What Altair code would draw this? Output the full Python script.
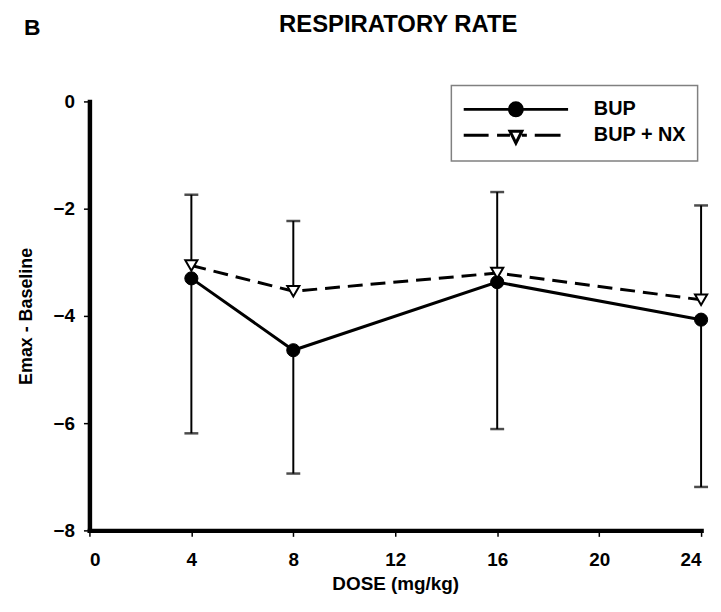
import altair as alt
import pandas as pd

# ---- data ----
dose = [4, 8, 16, 24]
bup_mean = [-3.30, -4.64, -3.37, -4.07]
bup_lower = [-6.19, -6.94, -6.11, -7.19]
bupnx_mean = [-3.06, -3.54, -3.20, -3.70]
bupnx_upper = [-1.74, -2.23, -1.69, -1.94]
series_names = ["BUP", "BUP + NX"]
x_ticks = [0, 4, 8, 12, 16, 20, 24]
y_ticks = [-8, -6, -4, -2, 0]
panel_label = ["B"]

rows = []
for d, m, e in zip(dose, bup_mean, bup_lower):
    rows.append({"dose": d, "series": series_names[0], "mean": m, "err": e})
for d, m, e in zip(dose, bupnx_mean, bupnx_upper):
    rows.append({"dose": d, "series": series_names[1], "mean": m, "err": e})
df = pd.DataFrame(rows)

FONT = "Liberation Sans"

xscale = alt.Scale(domain=[0, 24], nice=False)
yscale = alt.Scale(domain=[-8, 0], nice=False)
xaxis = alt.Axis(values=x_ticks, title="DOSE (mg/kg)", labelPadding=14,
                 titlePadding=6, titleFontSize=19)
yaxis = alt.Axis(values=y_ticks, title="Emax - Baseline", labelPadding=9,
                 titlePadding=18, titleFontSize=18)

X = alt.X("dose:Q", scale=xscale, axis=xaxis)
Y = alt.Y("mean:Q", scale=yscale, axis=yaxis)

base = alt.Chart(df)
is_bup = alt.datum.series == series_names[0]
is_nx = alt.datum.series == series_names[1]

# legend symbols (line + marker) as custom SVG paths, 1 unit = 11.5 px
p_bup = "M-4.57,0L4.57,0M0.57,0A0.57,0.57,0,1,1,-0.57,0A0.57,0.57,0,1,1,0.57,0Z"
p_nx = ("M-4.57,0L-2.39,0M-1.65,0L-0.52,0M0.52,0L0.96,0M1.65,0L3.91,0"
        "M-0.52,-0.35L0.52,-0.35L0,0.7Z")

rules = base.mark_rule(color="black", strokeWidth=2).encode(
    x=X, y=Y, y2=alt.Y2("err:Q")
)
caps = base.mark_tick(color="black", thickness=2.5, size=14, orient="horizontal").encode(
    x=X, y=alt.Y("err:Q", scale=yscale, axis=yaxis)
)
line_bup = base.transform_filter(is_bup).mark_line(color="black", strokeWidth=3).encode(x=X, y=Y)
line_nx = base.transform_filter(is_nx).mark_line(
    color="black", strokeWidth=3, strokeDash=[15, 8]).encode(x=X, y=Y)
pts_bup = base.transform_filter(is_bup).mark_point(
    shape="circle", filled=True, fill="black", stroke="black", strokeWidth=1,
    size=175, opacity=1).encode(x=X, y=Y)
pts_nx = base.transform_filter(is_nx).mark_point(
    shape="triangle-down", filled=True, fill="white", stroke="black", strokeWidth=2,
    size=150, opacity=1).encode(x=X, y=Y)

# legend-only layer (no marks drawn; entries come from the scale domain)
legend_layer = base.transform_filter("false").mark_point(
    filled=True, stroke="black", strokeWidth=3, opacity=1).encode(
    x=X, y=Y,
    shape=alt.Shape("series:N", scale=alt.Scale(domain=series_names, range=[p_bup, p_nx]),
                    legend=alt.Legend(
                        title=None, orient="none", legendX=364.5, legendY=-16,
                        symbolSize=529, symbolOffset=41, symbolStrokeWidth=3,
                        labelOffset=65.5, padding=11, rowPadding=0,
                        strokeColor="#808080",
                        labelFont=FONT, labelFontSize=20, labelFontWeight="bold",
                        labelColor="black",
                    )),
    fill=alt.Fill("series:N", scale=alt.Scale(domain=series_names, range=["black", "white"]),
                  legend=None),
)

label_df = pd.DataFrame({"label": panel_label})
letter = alt.Chart(label_df).mark_text(
    font=FONT, fontSize=23, fontWeight="bold", align="left", baseline="alphabetic", color="black"
).encode(text="label:N", x=alt.value(-66), y=alt.value(-67))

chart = alt.layer(rules, caps, line_bup, line_nx, pts_bup, pts_nx, legend_layer, letter).properties(
    width=616, height=432,
    title=alt.TitleParams("RESPIRATORY RATE", font=FONT, fontSize=24, fontWeight="bold",
                          anchor="middle", frame="group", offset=-20, dx=3, color="black"),
    autosize=alt.AutoSizeParams(type="none"),
    padding={"left": 82, "top": 92, "right": 12, "bottom": 66},
).configure_view(stroke=None).configure_axis(
    grid=False, domainColor="black", domainWidth=4.5, domainCap="square",
    tickColor="black", tickWidth=1.5, tickSize=6,
    labelFont=FONT, labelFontSize=19, labelFontWeight="bold", labelColor="black",
    titleFont=FONT, titleFontWeight="bold", titleColor="black",
).configure_legend(strokeWidth=1.5)

chart.save("out.html", embed_options={"renderer": "svg", "actions": False})
